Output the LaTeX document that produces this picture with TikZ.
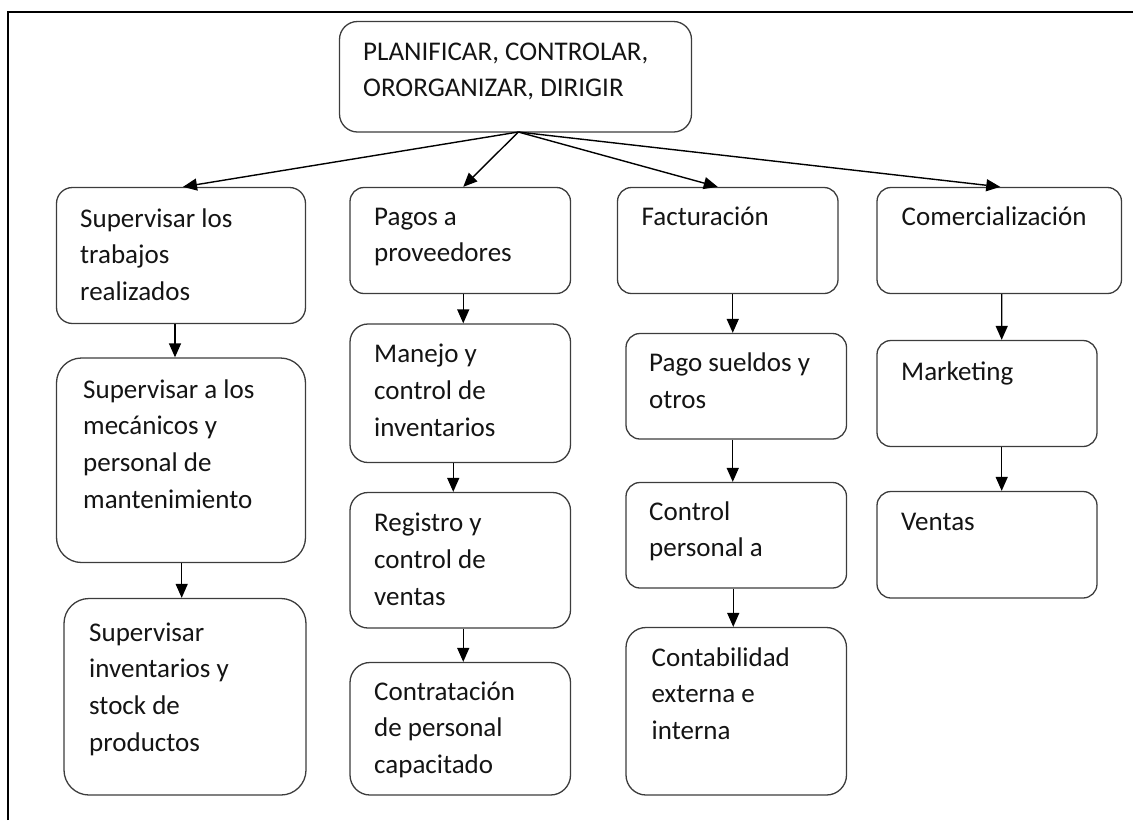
\documentclass[tikz,border=0pt]{standalone}
\usepackage{fontspec}
\setmainfont{Carlito}
\usetikzlibrary{arrows.meta,calc}
\definecolor{boxgray}{HTML}{3C3C3C}
\definecolor{ink}{HTML}{141414}
\tikzset{
  box/.style={draw=boxgray, line width=1.3pt, rectangle, rounded corners=#1, inner sep=0pt},
  box/.default=14pt,
  txt/.style={anchor=north west, yshift=21pt, inner sep=0pt, align=left, text=ink,
              font=\fontsize{27}{36.7}\selectfont},
  arr/.style={line width=1.4pt, draw=black, -{Triangle[length=14pt,width=12pt]}},
}
% box by its corners: name, x1, y1, x2, y2, corner radius
\newcommand{\mkbox}[6]{%
  \node[box=#6pt, minimum width={#4-#2}, minimum height={#5-#3}] (#1) at ({(#2+#4)/2},{(#3+#5)/2}) {};}
% fixed first-line height so text can be placed by its baseline
\newcommand{\firstln}{\rule{0pt}{21pt}}
% vertical link from one box to the box below it
\newcommand{\vlink}[4]{\draw[arr] ($(#1.south)+(#2,0)$) -- ($(#3.north)+(#4,0)$);}

\begin{document}
\begin{tikzpicture}[x=1pt,y=-1pt]
\useasboundingbox (0,0) rectangle (1133,820);
\draw[line width=2pt] (8.3,820) -- (8.3,11.7) -- (1133,11.7);

% boxes
\mkbox{top}{339.5}{21.5}{691.5}{132}{18}
\mkbox{b1}{56.5}{187.5}{305.5}{323.5}{16}
\mkbox{b2}{56.5}{358}{305.5}{562.5}{25}
\mkbox{b3}{64}{598.5}{306}{795}{25}
\mkbox{c1}{350}{187.5}{570.5}{293.5}{14}
\mkbox{c2}{350}{324}{570.5}{462.5}{18}
\mkbox{c3}{350}{492.5}{570.5}{628}{18}
\mkbox{c4}{350}{662.5}{570.5}{795}{20}
\mkbox{d1}{617.5}{187.5}{838}{293.5}{14}
\mkbox{d2}{626}{333.5}{846.5}{439}{14}
\mkbox{d3}{626}{482.5}{846.5}{588}{14}
\mkbox{d4}{626}{627.5}{846.5}{795}{20}
\mkbox{e1}{877}{187.5}{1121.5}{293.5}{14}
\mkbox{e2}{877}{340.5}{1097}{446.5}{14}
\mkbox{e3}{877}{491.5}{1097}{598}{14}

% texts (placed at the baseline of their first line)
\node[txt] (ttop) at (363,60) {\firstln PLANIFICAR, CONTROLAR,\\ORORGANIZAR, DIRIGIR};
\node[txt] (tb1) at (80,227) {\firstln Supervisar los\\trabajos\\realizados};
\node[txt] (tb2) at (83,398) {\firstln Supervisar a los\\mecánicos y\\personal de\\mantenimiento};
\node[txt] (tb3) at (89,641) {\firstln Supervisar\\inventarios y\\stock de\\productos};
\node[txt] (tc1) at (374,225) {\firstln Pagos a\\proveedores};
\node[txt] (tc2) at (374,362.5) {\firstln Manejo y\\control de\\inventarios};
\node[txt] (tc3) at (374,531.5) {\firstln Registro y\\control de\\ventas};
\node[txt] (tc4) at (374,700) {\firstln Contratación\\de personal\\capacitado};
\node[txt] (td1) at (641.5,225) {\firstln Facturación};
\node[txt] (td2) at (649,371.5) {\firstln Pago sueldos y\\otros};
\node[txt] (td3) at (649,520) {\firstln Control\\personal a};
\node[txt] (td4) at (651.5,666) {\firstln Contabilidad\\externa e\\interna};
\node[txt] (te1) at (901.5,225) {\firstln Comercialización};
\node[txt] (te2) at (901,380.5) {\firstln Marketing};
\node[txt] (te3) at (901,530) {\firstln Ventas};

% connectors from the top box
\coordinate (hub) at (518.3,132);
\draw[arr] (hub) -- ($(b1.north)+(2,0)$);
\draw[arr] (hub) -- ($(c1.north)+(3,0)$);
\draw[arr] (hub) -- ($(d1.north)+(-10,0)$);
\draw[arr] (hub) -- ($(e1.north)+(1,0)$);

% connectors down each column
\vlink{b1}{-6}{b2}{-6}
\vlink{b2}{0.7}{b3}{-3.3}
\vlink{c1}{3}{c2}{3}
\vlink{c2}{-7}{c3}{-7}
\vlink{c3}{3}{c4}{3}
\vlink{d1}{5}{d2}{-3.5}
\vlink{d2}{-3.5}{d3}{-3.5}
\vlink{d3}{-3}{d4}{-3}
\vlink{e1}{2.5}{e2}{14.7}
\vlink{e2}{14.7}{e3}{14.7}
\end{tikzpicture}
\end{document}
